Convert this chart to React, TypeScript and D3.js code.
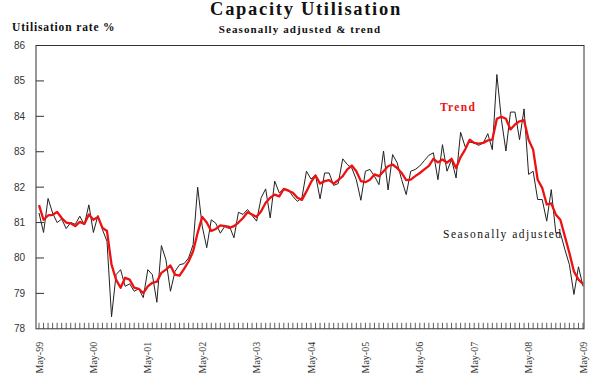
import React from "react";
import * as d3 from "d3";

const yTicks = [78, 79, 80, 81, 82, 83, 84, 85, 86];
const xLabels = ["May-99", "May-00", "May-01", "May-02", "May-03", "May-04", "May-05", "May-06", "May-07", "May-08", "May-09"];

// Monthly, May-1999 .. May-2009
const seasonallyAdjusted = [
  81.27, 80.72, 81.68, 81.27, 81.0, 81.1, 80.83, 81.0, 80.95, 81.18, 80.94, 81.5,
  80.72, 81.2, 80.8, 80.47, 78.34, 79.53, 79.67, 79.2, 79.27, 79.06, 79.13, 78.88,
  79.67, 79.53, 78.75, 80.35, 79.95, 79.06, 79.62, 79.81, 79.84, 80.0, 80.38, 82.0,
  80.9, 80.29, 81.08, 80.98, 80.7, 80.9, 80.9, 80.57, 81.29, 81.23, 81.37, 81.2,
  81.04, 81.7, 81.95, 81.13, 82.17, 81.84, 81.95, 81.93, 81.74, 81.6, 81.7, 82.45,
  82.23, 82.34, 81.67, 82.4, 82.4, 82.05, 82.1, 82.8, 82.64, 82.54, 82.21, 81.63,
  82.45, 82.5, 82.31, 82.07, 83.02, 81.92, 82.92, 82.69, 82.21, 81.79, 82.45, 82.5,
  82.6, 82.75, 82.9, 82.97, 82.21, 83.2, 82.45, 82.78, 82.26, 83.55, 83.14, 83.27,
  83.25, 83.18, 83.25, 83.51, 83.06, 85.18, 83.91, 83.02, 84.12, 84.12, 83.34, 84.21,
  82.36, 82.45, 81.65, 81.65, 81.04, 81.93, 80.71, 80.71, 80.24, 79.81, 78.97, 79.75,
  79.2,
];

const trend = [
  81.49, 81.08, 81.2, 81.22, 81.3, 81.13, 81.0, 80.98, 80.9, 81.02, 80.96, 81.23,
  81.08, 81.16, 80.85, 80.76, 79.81, 79.39, 79.16, 79.44, 79.39, 79.16, 79.13, 79.01,
  79.2, 79.3, 79.33, 79.58, 79.67, 79.79, 79.53, 79.5, 79.69, 79.9, 80.19, 80.71,
  81.16, 81.0, 80.76, 80.82, 80.92, 80.9, 80.85, 80.9, 81.0, 81.13, 81.29, 81.23,
  81.16, 81.32, 81.56, 81.7, 81.79, 81.74, 81.95, 81.9, 81.84, 81.7, 81.64, 81.88,
  82.14, 82.33, 82.1, 82.17, 82.2, 82.1, 82.2, 82.31, 82.5, 82.61, 82.45, 82.17,
  82.14, 82.21, 82.36, 82.31, 82.45, 82.59, 82.64, 82.54, 82.4, 82.2, 82.21, 82.31,
  82.4, 82.5, 82.6, 82.8, 82.7, 82.78, 82.69, 82.8, 82.54, 82.85, 83.06, 83.34,
  83.25, 83.23, 83.25, 83.32, 83.34, 83.93, 83.99, 83.93, 83.63, 83.77, 83.86, 83.89,
  83.34, 83.06, 82.21, 81.98, 81.51, 81.54, 81.23, 81.08, 80.61, 80.14, 79.62, 79.39,
  79.27,
];

const W = 600;
const H = 378;
const frame = { left: 36, right: 584, top: 45.5, bottom: 328.8 };

export default function App() {
  const n = seasonallyAdjusted.length;
  const x = d3.scaleLinear().domain([0, n - 1]).range([39, 583]);
  const y = d3.scaleLinear().domain([78, 86]).range([frame.bottom, frame.top]);
  const line = d3
    .line<number>()
    .x((_, i) => x(i))
    .y((d) => y(d));
  const months = d3.range(n);
  const serif = "'Liberation Serif', 'Times New Roman', serif";
  const sans = "'Liberation Sans', Arial, sans-serif";

  return (
    <svg
      width={W}
      height={H}
      viewBox={`0 0 ${W} ${H}`}
      style={{ position: "absolute", left: 0, top: 0, background: "#fff" }}
    >
      <rect x={0} y={0} width={W} height={H} fill="#fff" />
      <text x={306} y={15} textAnchor="middle" fontFamily={serif} fontWeight="bold" fontSize={18.5} letterSpacing={1.7} fill="#111">
        Capacity Utilisation
      </text>
      <text x={300} y={33} textAnchor="middle" fontFamily={serif} fontWeight="bold" fontSize={11} letterSpacing={1.1} fill="#111">
        Seasonally adjusted &amp; trend
      </text>
      <text x={12} y={31} fontFamily={serif} fontWeight="bold" fontSize={11.5} letterSpacing={0.85} fill="#111">
        Utilisation rate %
      </text>

      {/* frame */}
      <rect
        x={frame.left}
        y={frame.top}
        width={frame.right - frame.left}
        height={frame.bottom - frame.top}
        fill="none"
        stroke="#333"
        strokeWidth={1}
      />

      {/* y ticks */}
      {yTicks.map((t) => (
        <g key={t}>
          {t > 78 && t < 86 && (
            <line x1={frame.left} x2={frame.left + 8} y1={y(t)} y2={y(t)} stroke="#333" strokeWidth={1} />
          )}
          <text x={25} y={y(t)} dy="0.35em" textAnchor="end" fontFamily={sans} fontSize={10} fill="#333">
            {t}
          </text>
        </g>
      ))}

      {/* monthly ticks */}
      {months.map((i) => (
        <line key={i} x1={x(i)} x2={x(i)} y1={frame.bottom} y2={frame.bottom - 6} stroke="#333" strokeWidth={0.8} />
      ))}

      {/* x labels */}
      {xLabels.map((lab, k) => (
        <text
          key={lab}
          transform={`translate(${x(k * 12) + 3.5},${frame.bottom + 13}) rotate(-90)`}
          textAnchor="end"
          fontFamily={serif}
          fontSize={10}
          fill="#333"
        >
          {lab}
        </text>
      ))}

      {/* series */}
      <path d={line(seasonallyAdjusted) || ""} fill="none" stroke="#222" strokeWidth={1} strokeLinejoin="round" />
      <path d={line(trend) || ""} fill="none" stroke="#ee1111" strokeWidth={2.3} strokeLinejoin="round" />

      {/* annotations */}
      <text x={440} y={111} fontFamily={serif} fontWeight="bold" fontSize={11.5} letterSpacing={1.3} fill="#ee1111">
        Trend
      </text>
      <text x={443} y={238} fontFamily={serif} fontSize={11.5} letterSpacing={1.5} fill="#111">
        Seasonally adjusted
      </text>
    </svg>
  );
}
